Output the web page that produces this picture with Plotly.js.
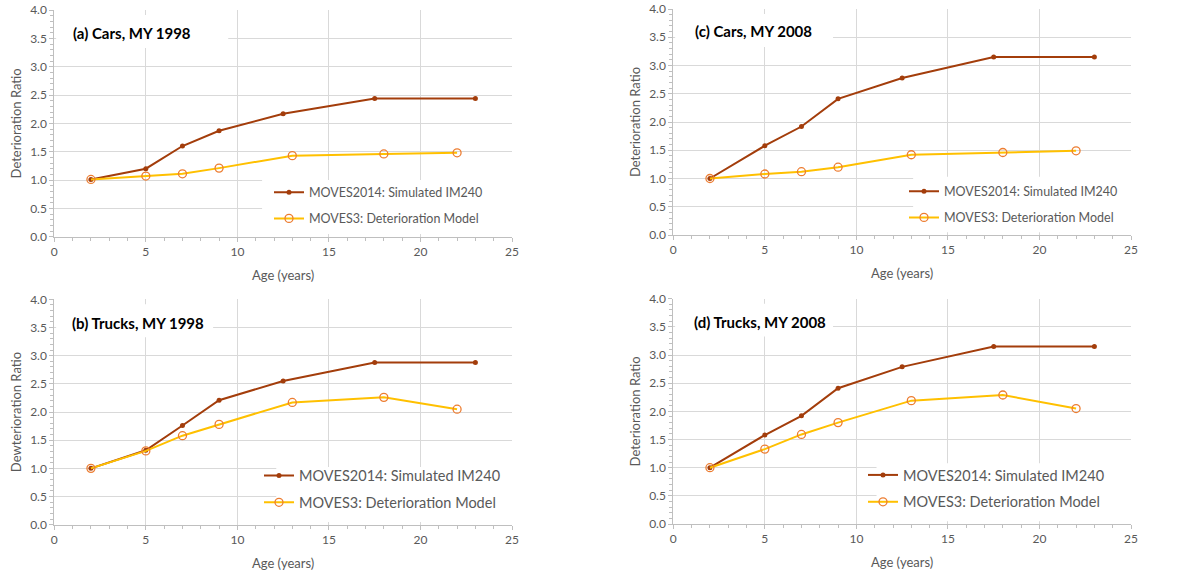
<!DOCTYPE html>
<html>
<head>
<meta charset="utf-8">
<script src="https://cdn.plot.ly/plotly-3.0.1.min.js"></script>
<style>html,body{margin:0;padding:0;background:#fff;}#chart{width:1180px;height:575px;}</style>
</head>
<body>
<div id="chart"></div>
<script>
// ---- data ----
const seriesNames = ["MOVES2014: Simulated IM240", "MOVES3: Deterioration Model"];
const panelTitles = ["(a) Cars, MY 1998", "(c) Cars, MY 2008", "(b) Trucks, MY 1998", "(d) Trucks, MY 2008"];
const yAxisTitles = ["Deterioration Ratio", "Deterioration Ratio", "Dewterioration Ratio", "Deterioration Ratio"];
const xAxisTitle = "Age (years)";
const ageMOVES2014 = [2, 5, 7, 9, 12.5, 17.5, 23];
const ageMOVES3 = [2, 5, 7, 9, 13, 18, 22];
const carsMY1998_MOVES2014 = [1.01, 1.20, 1.60, 1.87, 2.17, 2.44, 2.44];
const carsMY1998_MOVES3 = [1.01, 1.07, 1.11, 1.21, 1.43, 1.46, 1.48];
const carsMY2008_MOVES2014 = [1.00, 1.58, 1.92, 2.41, 2.78, 3.15, 3.15];
const carsMY2008_MOVES3 = [1.00, 1.08, 1.12, 1.20, 1.42, 1.46, 1.49];
const trucksMY1998_MOVES2014 = [1.00, 1.32, 1.76, 2.21, 2.55, 2.88, 2.88];
const trucksMY1998_MOVES3 = [1.00, 1.31, 1.58, 1.78, 2.17, 2.26, 2.05];
const trucksMY2008_MOVES2014 = [1.00, 1.58, 1.92, 2.41, 2.79, 3.15, 3.15];
const trucksMY2008_MOVES3 = [1.00, 1.33, 1.59, 1.80, 2.19, 2.29, 2.05];

// ---- styling ----
const FONT = "Lato, 'Open Sans', sans-serif";
const GRAY = "#595959";
const C2014 = "#A33D0B";
const C3LINE = "#FFC000";
const C3MARK = "#ED7D31";
const W = 1180, H = 575;
const XMAX = 25, YMAX = 4;

const panels = [
  {ax: "", y2014: carsMY1998_MOVES2014, y3: carsMY1998_MOVES3, legend: "legend",
   xd: [54.3, 512], yd: [10, 236.7], legFont: 12.5, legGap: 7, legPos: [269, 177.5], titleBoxX: 0.38, titleX: 0.036, titleY: 0.90},
  {ax: "2", y2014: carsMY2008_MOVES2014, y3: carsMY2008_MOVES3, legend: "legend2",
   xd: [673.3, 1131], yd: [9, 235], legFont: 12.5, legGap: 7, legPos: [904, 176.5], titleBoxX: 0.349, titleX: 0.044, titleY: 0.904},
  {ax: "3", y2014: trucksMY1998_MOVES2014, y3: trucksMY1998_MOVES3, legend: "legend3",
   xd: [54.3, 512], yd: [299.3, 524.7], legFont: 14.5, legGap: 5, legPos: [259, 459.5], titleBoxX: 0.347, titleX: 0.034, titleY: 0.896},
  {ax: "4", y2014: trucksMY2008_MOVES2014, y3: trucksMY2008_MOVES3, legend: "legend4",
   xd: [673.3, 1131], yd: [298.7, 524], legFont: 14.5, legGap: 5, legPos: [863, 459], titleBoxX: 0.349, titleX: 0.040, titleY: 0.895}
];
const legendBoxes = [
  {x0: 0.454, y1: 0.25}, {x0: 0.524, y1: 0.258}, {x0: 0.485, y1: 0.256}, {x0: 0.444, y1: 0.27}
];

const traces = [];
const layout = {
  width: W, height: H,
  margin: {l: 0, r: 0, t: 0, b: 0},
  paper_bgcolor: "#fff", plot_bgcolor: "#fff",
  font: {family: FONT, color: GRAY},
  shapes: [], annotations: []
};

panels.forEach((p, i) => {
  const xa = "x" + p.ax, ya = "y" + p.ax;
  traces.push({
    x: ageMOVES2014, y: p.y2014, xaxis: xa, yaxis: ya, type: "scatter", mode: "lines+markers",
    name: seriesNames[0], legend: p.legend, legendgroup: "g1_" + i,
    line: {color: C2014, width: 2}, marker: {color: C2014, size: 5, symbol: "circle"}
  });
  traces.push({
    x: ageMOVES3, y: p.y3, xaxis: xa, yaxis: ya, type: "scatter", mode: "lines+markers",
    name: seriesNames[1], legend: p.legend, legendgroup: "g2_" + i,
    line: {color: C3LINE, width: 2},
    marker: {color: "rgba(255,255,255,0)", size: 8, symbol: "circle", line: {color: C3MARK, width: 1.3}}
  });
  const xKey = "xaxis" + p.ax, yKey = "yaxis" + p.ax;
  layout[xKey] = {
    domain: [p.xd[0] / W, p.xd[1] / W], anchor: ya, range: [0, XMAX], dtick: 5, tick0: 0,
    showgrid: true, gridcolor: "#D9D9D9", gridwidth: 1, zeroline: false,
    showline: true, linecolor: "#BFBFBF", linewidth: 1,
    ticks: "outside", ticklen: 4, tickcolor: "#BFBFBF",
    minor: {dtick: 1, ticks: "outside", ticklen: 3, tickcolor: "#BFBFBF", showgrid: false},
    tickfont: {size: 12, color: GRAY, family: FONT},
    title: {text: xAxisTitle, font: {size: 13, color: GRAY, family: FONT}, standoff: 12},
    fixedrange: true
  };
  layout[yKey] = {
    domain: [1 - p.yd[1] / H, 1 - p.yd[0] / H], anchor: xa, range: [0, YMAX], dtick: 0.5, tick0: 0,
    tickformat: ".1f",
    showgrid: true, gridcolor: "#D9D9D9", gridwidth: 1, zeroline: false,
    showline: true, linecolor: "#BFBFBF", linewidth: 1,
    ticks: "outside", ticklen: 4, tickcolor: "#BFBFBF",
    minor: {dtick: 0.1, ticks: "outside", ticklen: 3, tickcolor: "#BFBFBF", showgrid: false},
    tickfont: {size: 12, color: GRAY, family: FONT},
    title: {text: yAxisTitles[i], font: {size: 13, color: GRAY, family: FONT}, standoff: 5},
    fixedrange: true
  };
  layout[p.legend] = {
    x: p.legPos[0] / W, y: 1 - p.legPos[1] / H, xanchor: "left", yanchor: "top",
    bgcolor: "rgba(0,0,0,0)", borderwidth: 0, traceorder: "grouped", tracegroupgap: p.legGap,
    font: {size: p.legFont, color: GRAY, family: FONT}
  };
  // white boxes covering gridlines (title box and legend box), between grid and traces
  layout.shapes.push({type: "rect", xref: xa, yref: ya, layer: "between",
    x0: 0.004 * XMAX, x1: p.titleBoxX * XMAX, y0: 0.832 * YMAX, y1: 0.978 * YMAX,
    fillcolor: "#fff", line: {width: 0}});
  layout.shapes.push({type: "rect", xref: xa, yref: ya, layer: "between",
    x0: legendBoxes[i].x0 * XMAX, x1: XMAX, y0: 0.012 * YMAX, y1: legendBoxes[i].y1 * YMAX,
    fillcolor: "#fff", line: {width: 0}});
  layout.annotations.push({
    xref: xa + " domain", yref: ya + " domain", x: p.titleX, y: p.titleY,
    xanchor: "left", yanchor: "middle", showarrow: false, text: "<b>" + panelTitles[i] + "</b>",
    font: {size: 15, color: "#000", family: FONT}
  });
});

Plotly.newPlot("chart", traces, layout, {displayModeBar: false, staticPlot: true});
</script>
</body>
</html>
